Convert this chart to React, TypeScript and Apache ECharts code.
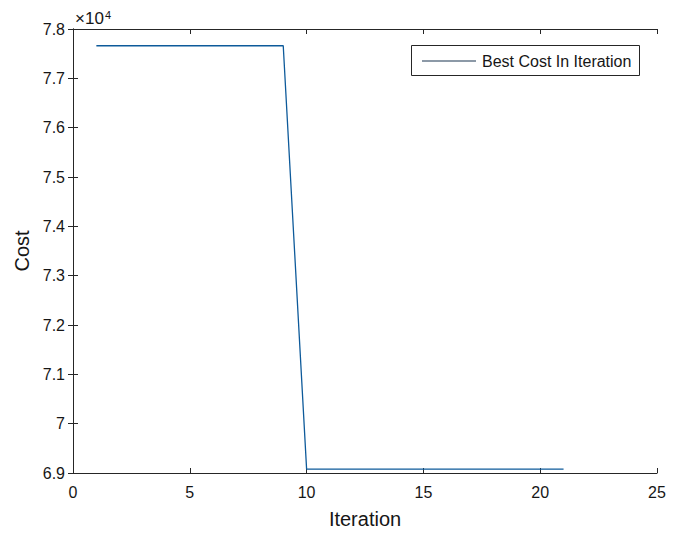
import React, { useEffect, useRef } from "react";
import * as echarts from "echarts";

const iterations = [1, 2, 3, 4, 5, 6, 7, 8, 9, 10, 11, 12, 13, 14, 15, 16, 17, 18, 19, 20, 21];
const bestCost = [
  77660, 77660, 77660, 77660, 77660, 77660, 77660, 77660, 77660,
  69080, 69080, 69080, 69080, 69080, 69080, 69080, 69080, 69080, 69080, 69080, 69080,
];
const seriesName = "Best Cost In Iteration";
const xTitle = "Iteration";
const yTitle = "Cost";

const FONT = "'Liberation Sans', Arial, Helvetica, sans-serif";
const AXIS = "#262626";
const TXT = "#161616";

export default function App() {
  const ref = useRef<HTMLDivElement>(null);
  useEffect(() => {
    if (!ref.current) return;
    const chart = echarts.init(ref.current, null, { renderer: "svg" });
    const left = 73, right = 657, top = 29, bottom = 475;
    chart.setOption({
      animation: false,
      backgroundColor: "#ffffff",
      textStyle: { fontFamily: FONT },
      grid: { left, right: 686 - right, top, bottom: 534 - bottom, containLabel: false },
      xAxis: [
        {
          type: "value",
          min: 0,
          max: 25,
          interval: 5,
          name: xTitle,
          nameLocation: "middle",
          nameGap: 36,
          nameTextStyle: { fontSize: 20, color: TXT, fontFamily: FONT },
          axisLine: { show: true, lineStyle: { color: AXIS, width: 1 } },
          axisTick: { show: true, inside: true, length: 5, lineStyle: { color: AXIS } },
          axisLabel: { fontSize: 16, color: TXT, margin: 11, fontFamily: FONT },
          splitLine: { show: false },
        },
        {
          type: "value",
          position: "top",
          min: 0,
          max: 25,
          interval: 5,
          axisLine: { show: true, lineStyle: { color: AXIS, width: 1 } },
          axisTick: { show: true, inside: true, length: 5, lineStyle: { color: AXIS } },
          axisLabel: { show: false },
          splitLine: { show: false },
        },
      ],
      yAxis: [
        {
          type: "value",
          min: 69000,
          max: 78000,
          interval: 1000,
          name: yTitle,
          nameLocation: "middle",
          nameGap: 38,
          nameRotate: 90,
          nameTextStyle: { fontSize: 20, color: TXT, fontFamily: FONT },
          axisLine: { show: true, lineStyle: { color: AXIS, width: 1 } },
          axisTick: { show: true, inside: true, length: 5, lineStyle: { color: AXIS } },
          axisLabel: {
            fontSize: 16,
            color: TXT,
            margin: 8,
            fontFamily: FONT,
            formatter: (v: number) => String(+(v / 10000).toFixed(2)),
          },
          splitLine: { show: false },
        },
        {
          type: "value",
          position: "right",
          min: 69000,
          max: 78000,
          interval: 1000,
          axisLine: { show: true, lineStyle: { color: AXIS, width: 1 } },
          axisTick: { show: true, inside: true, length: 5, lineStyle: { color: AXIS } },
          axisLabel: { show: false },
          splitLine: { show: false },
        },
      ],
      series: [
        {
          name: seriesName,
          type: "line",
          data: iterations.map((x, i) => [x, bestCost[i]]),
          showSymbol: false,
          lineStyle: { color: "#0d5a9a", width: 1.3 },
          itemStyle: { color: "#0d5a9a" },
        },
      ],
      graphic: [
        {
          type: "text",
          x: 75,
          y: 27,
          style: {
            text: "×10",
            fontSize: 17,
            fill: TXT,
            fontFamily: FONT,
            verticalAlign: "bottom",
          },
        },
        {
          type: "text",
          x: 105,
          y: 9,
          style: {
            text: "4",
            fontSize: 11,
            fill: TXT,
            fontFamily: FONT,
            verticalAlign: "top",
          },
        },
        {
          type: "rect",
          shape: { x: 411.5, y: 45.5, width: 228, height: 30 },
          style: { fill: "#fff", stroke: AXIS, lineWidth: 1 },
        },
        {
          type: "line",
          shape: { x1: 422, y1: 61, x2: 476, y2: 61 },
          style: { stroke: "#1a3550", lineWidth: 1.2 },
        },
        {
          type: "text",
          x: 482,
          y: 61,
          style: {
            text: seriesName,
            fontSize: 16,
            fill: TXT,
            fontFamily: FONT,
            verticalAlign: "middle",
          },
        },
      ],
    });
    return () => chart.dispose();
  }, []);
  return (
    <div
      ref={ref}
      style={{ position: "absolute", left: 0, top: 0, width: 686, height: 534, background: "#fff" }}
    />
  );
}
